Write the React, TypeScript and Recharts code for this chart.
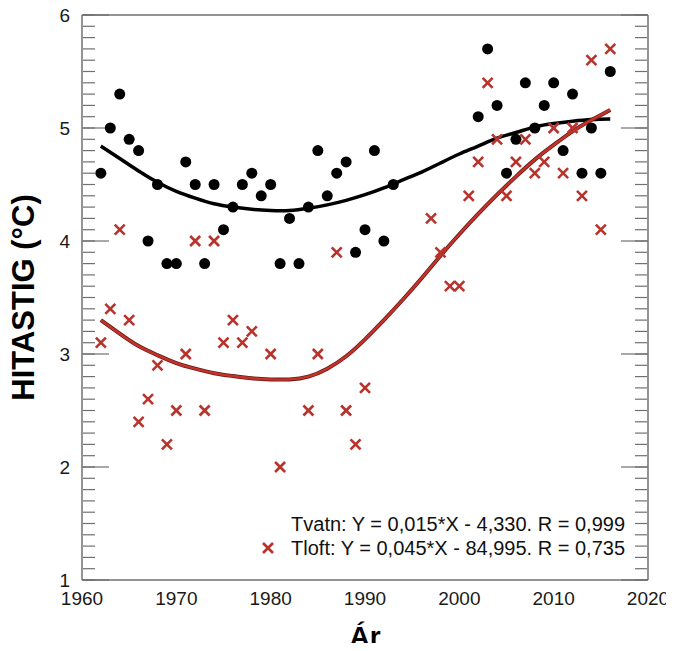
import React from 'react';
import { ComposedChart, XAxis, YAxis, Scatter, Line, Legend } from 'recharts';

// ---- tick positions ----
const X_TICKS = [1960, 1970, 1980, 1990, 2000, 2010, 2020];
const X_MINOR = Array.from({ length: 61 }, (_, i) => 1960 + i);
const Y_TICKS = [1, 2, 3, 4, 5, 6];
const Y_MINOR = Array.from({ length: 51 }, (_, i) => Math.round((1 + i * 0.1) * 10) / 10);

// ---- Tvatn (black dots) ----
const tvatnYears = [
  1962, 1963, 1964, 1965, 1966, 1967, 1968, 1969, 1970, 1971, 1972, 1973, 1974, 1975, 1976, 1977,
  1978, 1979, 1980, 1981, 1982, 1983, 1984, 1985, 1986, 1987, 1988, 1989, 1990, 1991, 1992, 1993,
  2002, 2003, 2004, 2005, 2006, 2007, 2008, 2009, 2010, 2011, 2012, 2013, 2014, 2015, 2016,
];
const tvatnValues = [
  4.6, 5.0, 5.3, 4.9, 4.8, 4.0, 4.5, 3.8, 3.8, 4.7, 4.5, 3.8, 4.5, 4.1, 4.3, 4.5,
  4.6, 4.4, 4.5, 3.8, 4.2, 3.8, 4.3, 4.8, 4.4, 4.6, 4.7, 3.9, 4.1, 4.8, 4.0, 4.5,
  5.1, 5.7, 5.2, 4.6, 4.9, 5.4, 5.0, 5.2, 5.4, 4.8, 5.3, 4.6, 5.0, 4.6, 5.5,
];

// ---- Tloft (red crosses) ----
const tloftYears = [
  1962, 1963, 1964, 1965, 1966, 1967, 1968, 1969, 1970, 1971, 1972, 1973, 1974, 1975, 1976, 1977,
  1978, 1980, 1981, 1984, 1985, 1987, 1988, 1989, 1990, 1997, 1998, 1999, 2000, 2001, 2002, 2003,
  2004, 2005, 2006, 2007, 2008, 2009, 2010, 2011, 2012, 2013, 2014, 2015, 2016,
];
const tloftValues = [
  3.1, 3.4, 4.1, 3.3, 2.4, 2.6, 2.9, 2.2, 2.5, 3.0, 4.0, 2.5, 4.0, 3.1, 3.3, 3.1,
  3.2, 3.0, 2.0, 2.5, 3.0, 3.9, 2.5, 2.2, 2.7, 4.2, 3.9, 3.6, 3.6, 4.4, 4.7, 5.4,
  4.9, 4.4, 4.7, 4.9, 4.6, 4.7, 5.0, 4.6, 5.0, 4.4, 5.6, 4.1, 5.7,
];

// ---- fitted curves ----
const tvatnFitYears = [
  1962, 1964, 1966, 1968, 1970, 1972, 1974, 1976, 1978, 1980, 1982, 1984, 1986, 1988,
  1990, 1992, 1994, 1996, 1998, 2000, 2002, 2004, 2006, 2008, 2010, 2012, 2014, 2016,
];
const tvatnFitValues = [
  4.84, 4.73, 4.62, 4.52, 4.44, 4.38, 4.33, 4.3, 4.28, 4.27, 4.27, 4.29, 4.32, 4.36,
  4.41, 4.47, 4.54, 4.61, 4.69, 4.77, 4.84, 4.91, 4.96, 5.01, 5.04, 5.06, 5.075, 5.08,
];
const tloftFitYears = [
  1962, 1964, 1966, 1968, 1970, 1972, 1974, 1976, 1978, 1980, 1982, 1984, 1986, 1988,
  1990, 1992, 1994, 1996, 1998, 2000, 2002, 2004, 2006, 2008, 2010, 2012, 2014, 2016,
];
const tloftFitValues = [
  3.3, 3.18, 3.07, 2.99, 2.92, 2.87, 2.83, 2.805, 2.785, 2.775, 2.775, 2.80, 2.87, 2.98,
  3.13, 3.3, 3.48, 3.67, 3.87, 4.06, 4.24, 4.41, 4.57, 4.72, 4.85, 4.97, 5.07, 5.16,
];

const legendLines = [
  'Tvatn: Y = 0,015*X - 4,330. R = 0,999',
  'Tloft: Y = 0,045*X - 84,995. R = 0,735',
];

const FONT = '"Liberation Sans", Arial, Helvetica, sans-serif';
const RED = '#b8332b';
const FRAME = '#707070';

const toPts = (xs: number[], ys: number[]) => xs.map((x, i) => ({ x, y: ys[i] }));
const tvatn = toPts(tvatnYears, tvatnValues);
const tloft = toPts(tloftYears, tloftValues);
const tvatnFit = toPts(tvatnFitYears, tvatnFitValues);
const tloftFit = toPts(tloftFitYears, tloftFitValues);

const dotShape = (p: any) => <circle cx={p.cx} cy={p.cy} r={5.5} fill="#000" />;
const crossShape = (p: any) => {
  const s = 5;
  const { cx, cy } = p;
  return (
    <g stroke={RED} strokeWidth={2.6}>
      <line x1={cx - s} y1={cy - s} x2={cx + s} y2={cy + s} />
      <line x1={cx - s} y1={cy + s} x2={cx + s} y2={cy - s} />
    </g>
  );
};
const EmptyTick = () => <g />;

const YLabel = (props: any) => {
  const vb = props.viewBox || { x: 0, y: 15, width: 82, height: 565 };
  const x = vb.x + 33.5;
  const y = vb.y + vb.height / 2;
  return (
    <text x={x} y={y} transform={`rotate(-90, ${x}, ${y})`} textAnchor="middle"
      style={{ fontFamily: FONT, fontSize: 31, fontWeight: 700, fill: '#000' }}>
      HITASTIG (°C)
    </text>
  );
};

const XLabel = (props: any) => {
  const vb = props.viewBox || { x: 82, y: 580, width: 566, height: 71 };
  return (
    <text x={vb.x + vb.width / 2} y={vb.y + 66} textAnchor="middle"
      style={{ fontFamily: FONT, fontSize: 28, fontWeight: 700, fill: '#000' }}>
      Ár
    </text>
  );
};

const LegendBox = () => (
  <div style={{ fontFamily: FONT, fontSize: 20, lineHeight: '24px', color: '#111', textAlign: 'right' }}>
    <div>{legendLines[0]}</div>
    <div style={{ display: 'flex', justifyContent: 'flex-end', alignItems: 'center' }}>
      <svg width={12} height={12} style={{ marginRight: 17 }}>
        <g stroke={RED} strokeWidth={2.6}>
          <line x1={1} y1={1} x2={11} y2={11} />
          <line x1={1} y1={11} x2={11} y2={1} />
        </g>
      </svg>
      <span>{legendLines[1]}</span>
    </div>
  </div>
);

const tickLineStyle = { stroke: FRAME, strokeWidth: 1.2 };
const axisLineStyle = { stroke: FRAME, strokeWidth: 1.5 };

export default function App() {
  return (
    <div style={{ margin: -8 }}>
      <ComposedChart width={674} height={651} margin={{ top: 15, right: 26, bottom: 0, left: 0 }}>
        {/* label axes */}
        <XAxis xAxisId={0} dataKey="x" type="number" domain={[1960, 2020]} allowDataOverflow
          ticks={X_TICKS} interval={0} tickLine={false} axisLine={false} tickSize={0} tickMargin={12}
          height={71} tick={{ fontSize: 19, fill: '#1a1a1a', fontFamily: FONT }} label={XLabel} />
        <YAxis yAxisId={0} type="number" domain={[1, 6]} allowDataOverflow
          ticks={Y_TICKS} interval={0} tickLine={false} axisLine={false} tickSize={0} tickMargin={12}
          width={82} tick={{ fontSize: 19, fill: '#1a1a1a', fontFamily: FONT }} label={YLabel} />

        {/* inward ticks + frame */}
        <XAxis xAxisId="bMaj" orientation="bottom" mirror height={1} type="number" domain={[1960, 2020]} allowDataOverflow
          ticks={X_TICKS} interval={0} tick={EmptyTick} tickSize={20} tickLine={tickLineStyle} axisLine={axisLineStyle} />
        <XAxis xAxisId="bMin" orientation="bottom" mirror height={1} type="number" domain={[1960, 2020]} allowDataOverflow
          ticks={X_MINOR} interval={0} tick={EmptyTick} tickSize={10} tickLine={tickLineStyle} axisLine={false} />
        <XAxis xAxisId="tMaj" orientation="top" mirror height={1} type="number" domain={[1960, 2020]} allowDataOverflow
          ticks={X_TICKS} interval={0} tick={EmptyTick} tickSize={20} tickLine={tickLineStyle} axisLine={axisLineStyle} />
        <XAxis xAxisId="tMin" orientation="top" mirror height={1} type="number" domain={[1960, 2020]} allowDataOverflow
          ticks={X_MINOR} interval={0} tick={EmptyTick} tickSize={10} tickLine={tickLineStyle} axisLine={false} />
        <YAxis yAxisId="lMaj" orientation="left" mirror width={1} type="number" domain={[1, 6]} allowDataOverflow
          ticks={Y_TICKS} interval={0} tick={EmptyTick} tickSize={27} tickLine={tickLineStyle} axisLine={axisLineStyle} />
        <YAxis yAxisId="lMin" orientation="left" mirror width={1} type="number" domain={[1, 6]} allowDataOverflow
          ticks={Y_MINOR} interval={0} tick={EmptyTick} tickSize={12} tickLine={tickLineStyle} axisLine={false} />
        <YAxis yAxisId="rMaj" orientation="right" mirror width={1} type="number" domain={[1, 6]} allowDataOverflow
          ticks={Y_TICKS} interval={0} tick={EmptyTick} tickSize={27} tickLine={tickLineStyle} axisLine={axisLineStyle} />
        <YAxis yAxisId="rMin" orientation="right" mirror width={1} type="number" domain={[1, 6]} allowDataOverflow
          ticks={Y_MINOR} interval={0} tick={EmptyTick} tickSize={12} tickLine={tickLineStyle} axisLine={false} />

        <Scatter name="Tvatn" data={tvatn} dataKey="y" shape={dotShape} isAnimationActive={false} />
        <Line data={tvatnFit} dataKey="y" type="natural" stroke="#000" strokeWidth={3.5} dot={false}
          activeDot={false} isAnimationActive={false} />
        <Scatter name="Tloft" data={tloft} dataKey="y" shape={crossShape} isAnimationActive={false} />
        <Line data={tloftFit} dataKey="y" type="natural" stroke="#6a1a15" strokeWidth={4} dot={false}
          activeDot={false} isAnimationActive={false} />
        <Line data={tloftFit} dataKey="y" type="natural" stroke="#c4332b" strokeWidth={2.4} dot={false}
          activeDot={false} isAnimationActive={false} />

        <Legend layout="horizontal" verticalAlign="middle" align="center"
          wrapperStyle={{ position: 'absolute', left: 188, top: 512, width: 437 }}
          content={() => <LegendBox />} />
      </ComposedChart>
    </div>
  );
}
